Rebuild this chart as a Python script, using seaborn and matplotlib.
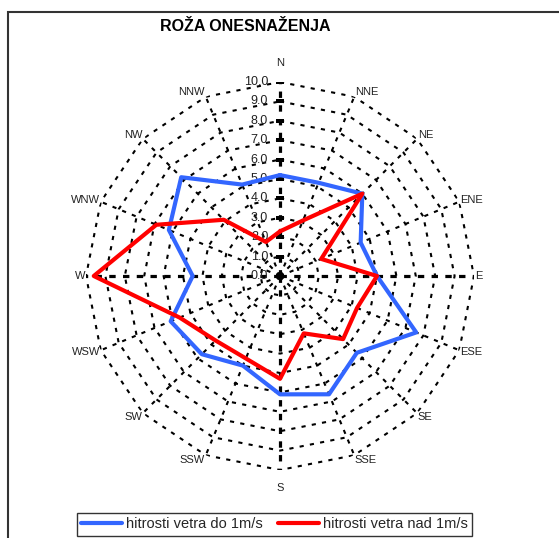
import numpy as np
import pandas as pd
import matplotlib
matplotlib.use("Agg")
import matplotlib.pyplot as plt
from matplotlib.patches import Rectangle
import seaborn as sns

directions = ["N", "NNE", "NE", "ENE", "E", "ESE", "SE", "SSE",
              "S", "SSW", "SW", "WSW", "W", "WNW", "NW", "NNW"]
blue_vals = [5.2, 5.2, 6.0, 4.5, 5.0, 7.6, 5.6, 6.6, 6.1, 5.0, 5.7, 6.1, 4.5, 6.2, 7.2, 5.1]
red_vals = [2.3, 3.1, 6.0, 2.3, 5.0, 4.3, 4.6, 3.2, 5.3, 4.6, 4.7, 5.6, 9.6, 6.9, 4.1, 1.9]
ring_levels = [1.0, 2.0, 3.0, 4.0, 5.0, 6.0, 7.0, 8.0, 9.0, 10.0]
radial_labels = ["0.0", "1.0", "2.0", "3.0", "4.0", "5.0", "6.0", "7.0", "8.0", "9.0", "10.0"]
series_names = ["hitrosti vetra do 1m/s", "hitrosti vetra nad 1m/s"]
title = "ROŽA ONESNAŽENJA"

sns.set_style("white")
plt.rcParams["font.family"] = ["Liberation Sans", "DejaVu Sans"]

fig = plt.figure(figsize=(5.59, 5.38), dpi=100)
W, H = 559, 538
cx, cy, R = 280, 276, 194
ax = fig.add_axes([(cx - R) / W, (H - cy - R) / H, 2 * R / W, 2 * R / H], projection="polar")
ax.set_theta_zero_location("N")
ax.set_theta_direction(-1)
ax.set_ylim(0, 10)
ax.grid(False)
ax.spines["polar"].set_visible(False)
ax.set_xticks([])
ax.set_yticks([])
ax.set_facecolor("none")

n = len(directions)
theta = np.arange(n) * 2 * np.pi / n
theta_c = np.append(theta, theta[0])

# polygon rings
for lv in ring_levels:
    ax.plot(theta_c, np.full(n + 1, lv), color="black", lw=1.5,
            linestyle=(0, (2, 3)), zorder=1)
# spokes
for i, t in enumerate(theta):
    card = (i % 4 == 0)
    ax.plot([t, t], [0, 10], color="black",
            lw=2.3 if card else 1.5,
            linestyle=(0, (2, 2.3)) if card else (0, (2, 3)), zorder=1)
# ticks on value axis
ax.plot(np.zeros(len(ring_levels) + 1), [0] + ring_levels, linestyle="none",
        marker="_", markersize=6, mew=1.5, color="black", zorder=1)
ax.plot([0], [0], marker="o", markersize=4, color="black", zorder=1)

colors = ["#3366FF", "#FF0000"]
for vals, name, col in zip([blue_vals, red_vals], series_names, colors):
    df = pd.DataFrame({"theta": theta_c, "r": np.append(vals, vals[0])})
    sns.lineplot(data=df, x="theta", y="r", ax=ax, sort=False, estimator=None,
                 color=col, lw=3, label=name, zorder=3)
ax.set_xlabel("")
ax.set_ylabel("")
ax.set_ylim(0, 10)

# radial labels
for lv, lab in zip([0.0] + ring_levels, radial_labels):
    ax.annotate(lab, xy=(0, lv), xytext=(-8.5, 0), textcoords="offset points",
                ha="right", va="center", fontsize=9, color="#222222", zorder=2)

# direction labels
for t, d in zip(theta, directions):
    s, c = np.sin(t), np.cos(t)
    if abs(s) < 1e-6:
        ha = "center"
        dy = 13.5 if c > 0 else -13
        dx = 0
    else:
        ha = "left" if s > 0 else "right"
        dx = 0.5 if s > 0 else -0.5
        dy = 4 * c
    ax.annotate(d, xy=(t, 10), xytext=(dx, dy), textcoords="offset points",
                ha=ha, va="center", fontsize=8, color="#222222")

handles, labels = ax.get_legend_handles_labels()
if ax.get_legend() is not None:
    ax.get_legend().remove()
leg = fig.legend(handles, labels, loc="center", bbox_to_anchor=(274.5 / W, (H - 524.5) / H),
                 ncol=2, fontsize=10.5, frameon=True, fancybox=False, handlelength=2.8,
                 handletextpad=0.3, columnspacing=1.0, borderpad=0.3)
leg.get_frame().set_edgecolor("black")
leg.get_frame().set_linewidth(1.0)
for h in leg.legend_handles:
    h.set_linewidth(3)

fig.text(245 / W, (H - 26.5) / H, title, ha="center", va="center",
         fontsize=11.5, fontweight="bold", color="black")

fig.patches.append(Rectangle((8 / W, -0.1), 1.2, (H - 12) / H + 0.1,
                             transform=fig.transFigure, fill=False,
                             edgecolor="#333333", lw=1.5, zorder=0))

fig.savefig("out.png", dpi=100)
